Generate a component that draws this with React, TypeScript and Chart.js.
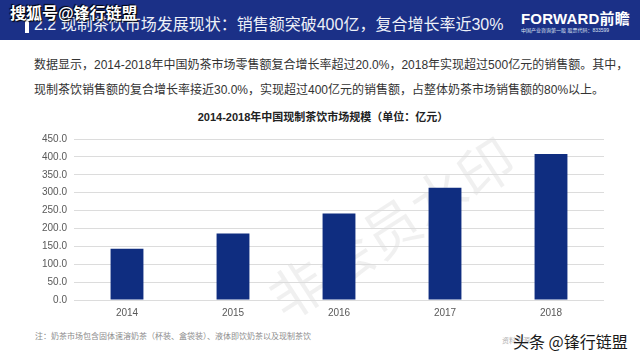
import React, { useEffect, useRef } from "react";
import { Chart, registerables } from "chart.js";

Chart.register(...registerables);

const years = ["2014", "2015", "2016", "2017", "2018"];
const marketSize = [143, 186, 242, 314, 408];
const yMin = 0;
const yMax = 450;
const yStep = 50;

const headerTitle = "2.2 现制茶饮市场发展现状：销售额突破400亿，复合增长率近30%";
const paraLine1 = "数据显示，2014-2018年中国奶茶市场零售额复合增长率超过20.0%，2018年实现超过500亿元的销售额。其中，";
const paraLine2 = "现制茶饮销售额的复合增长率接近30.0%，实现超过400亿元的销售额，占整体奶茶市场销售额的80%以上。";
const chartTitle = "2014-2018年中国现制茶饮市场规模（单位：亿元）";
const footnote = "注：奶茶市场包含固体速溶奶茶（杯装、盒袋装）、液体即饮奶茶以及现制茶饮";

const FONT = '"Liberation Sans", "Noto Sans CJK SC", sans-serif';

export default function App() {
  const ref = useRef<HTMLCanvasElement>(null);

  useEffect(() => {
    if (!ref.current) return;
    const chart = new Chart(ref.current, {
      type: "bar",
      data: {
        labels: years,
        datasets: [
          {
            data: marketSize,
            backgroundColor: "#0f2d80",
            barPercentage: 0.31,
            categoryPercentage: 1,
          },
        ],
      },
      options: {
        responsive: false,
        animation: false,
        maintainAspectRatio: false,
        layout: { padding: { top: 39, right: 36, left: 0, bottom: 0 } },
        plugins: {
          legend: { display: false },
          tooltip: { enabled: false },
          title: { display: false },
        },
        scales: {
          x: {
            grid: { display: false, drawTicks: false },
            border: { display: false },
            ticks: {
              color: "#595959",
              font: { family: FONT, size: 10 },
              padding: 7,
            },
            afterFit: (s: any) => {
              s.height = 25;
            },
          },
          y: {
            min: yMin,
            max: yMax,
            grid: { color: "#dcdcdc", drawTicks: false, lineWidth: 1 },
            border: { display: false },
            ticks: {
              stepSize: yStep,
              color: "#595959",
              font: { family: FONT, size: 10 },
              padding: 7,
              callback: (v: any) => Number(v).toFixed(1),
            },
            afterFit: (s: any) => {
              s.width = 74;
            },
          },
        },
      },
    });
    return () => chart.destroy();
  }, []);

  const abs = (o: React.CSSProperties): React.CSSProperties => ({ position: "absolute", ...o });

  return (
    <div
      style={{
        position: "fixed",
        left: 0,
        top: 0,
        width: 640,
        height: 360,
        background: "#ffffff",
        overflow: "hidden",
        fontFamily: FONT,
      }}
    >
      {/* header band */}
      <div style={abs({ left: 0, top: 0, width: 640, height: 40, background: "#1b3087" })} />
      <div style={abs({ left: 25, top: 18, width: 4, height: 15, background: "#ffffff" })} />
      <div
        style={abs({
          left: 34,
          top: 14,
          fontSize: 16,
          color: "#eef1f8",
          whiteSpace: "nowrap",
          lineHeight: "22px",
        })}
      >
        {headerTitle}
      </div>
      <div
        style={abs({
          left: 10,
          top: 3,
          fontSize: 16,
          fontWeight: 700,
          color: "#ffffff",
          whiteSpace: "nowrap",
          lineHeight: "22px",
          textShadow: "1px 1px 1px #000, -1px -1px 1px #000",
        })}
      >
        搜狐号@锋行链盟
      </div>
      <div
        style={abs({
          left: 521,
          top: 10,
          fontSize: 15,
          fontWeight: 700,
          color: "#ffffff",
          whiteSpace: "nowrap",
          lineHeight: "18px",
          letterSpacing: "0.2px",
        })}
      >
        FORWARD前瞻
      </div>
      <div
        style={abs({
          left: 521,
          top: 27,
          fontSize: 5,
          color: "#dfe4f2",
          whiteSpace: "nowrap",
          lineHeight: "6px",
        })}
      >
        中国产业咨询第一股 股票代码：833599
      </div>

      {/* paragraph */}
      <div
        style={abs({
          left: 34,
          top: 53,
          fontSize: 12,
          color: "#333333",
          whiteSpace: "nowrap",
          lineHeight: "25px",
        })}
      >
        <div>{paraLine1}</div>
        <div>{paraLine2}</div>
      </div>

      {/* watermark */}
      <div
        style={abs({
          left: 250,
          top: 185,
          fontSize: 56,
          color: "rgba(0,0,0,0.06)",
          whiteSpace: "nowrap",
          transform: "rotate(-33deg)",
          transformOrigin: "center",
          fontFamily: '"Noto Sans CJK SC", sans-serif',
        })}
      >
        非会员水印
      </div>

      {/* chart title */}
      <div
        style={abs({
          left: 0,
          top: 109,
          width: 646,
          textAlign: "center",
          fontSize: 11,
          fontWeight: 700,
          color: "#222222",
          whiteSpace: "nowrap",
          lineHeight: "16px",
        })}
      >
        {chartTitle}
      </div>

      <canvas ref={ref} width={640} height={225} style={abs({ left: 0, top: 100, width: 640, height: 225 })} />

      {/* footnote */}
      <div
        style={abs({
          left: 35,
          top: 331,
          fontSize: 8,
          color: "#8c8c8c",
          whiteSpace: "nowrap",
          lineHeight: "12px",
        })}
      >
        {footnote}
      </div>
      <div
        style={abs({
          left: 502,
          top: 336,
          fontSize: 7,
          color: "#b0b0b0",
          whiteSpace: "nowrap",
          lineHeight: "10px",
        })}
      >
        资料来源
      </div>
      <div
        style={abs({
          left: 513,
          top: 330,
          fontSize: 16,
          color: "#1a1a1a",
          whiteSpace: "nowrap",
          lineHeight: "22px",
          fontFamily: '"Noto Sans CJK SC", sans-serif',
          textShadow: "0 0 2px #fff",
        })}
      >
        头条 @锋行链盟
      </div>
    </div>
  );
}
